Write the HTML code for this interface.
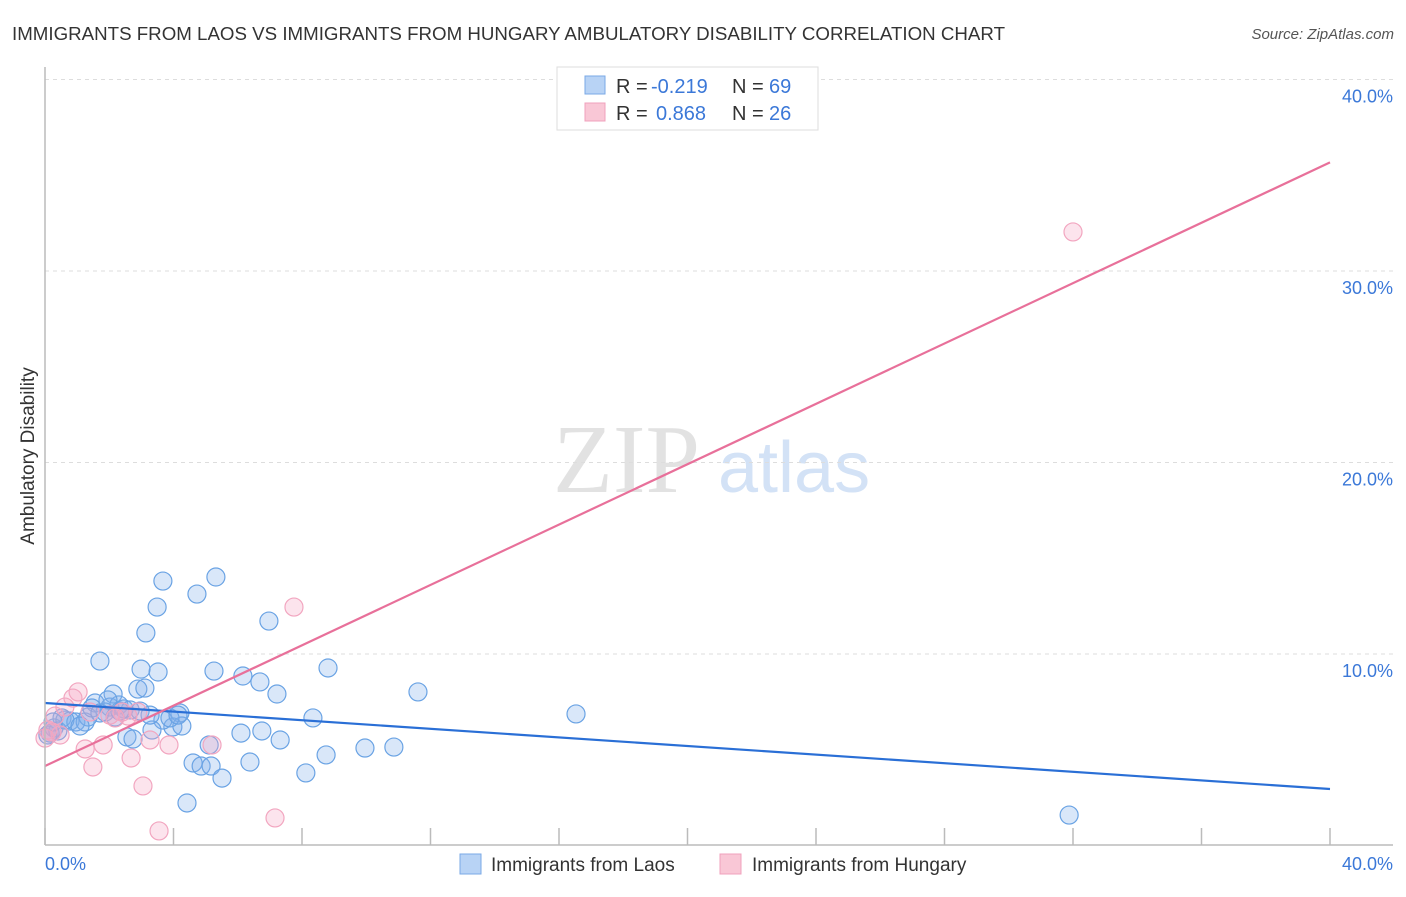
<!DOCTYPE html>
<html><head><meta charset="utf-8"><style>
body{margin:0;background:#fff;font-family:"Liberation Sans",sans-serif}
</style></head><body>
<svg width="1406" height="892" xmlns="http://www.w3.org/2000/svg" id="chart" font-family="Liberation Sans, sans-serif">
<text x="12" y="40" font-size="18" fill="#333" textLength="993" lengthAdjust="spacingAndGlyphs">IMMIGRANTS FROM LAOS VS IMMIGRANTS FROM HUNGARY AMBULATORY DISABILITY CORRELATION CHART</text>
<text x="1394" y="39" font-size="15" fill="#555" font-style="italic" text-anchor="end">Source: ZipAtlas.com</text>
<text transform="translate(34,456) rotate(-90)" font-size="19" fill="#333" text-anchor="middle">Ambulatory Disability</text>
<text x="553" y="492" font-size="98" fill="#e2e2e2" font-family="Liberation Serif, serif">ZIP</text>
<text x="718" y="492" font-size="72" fill="#d3e2f6">atlas</text>
<g id="grid"></g><g id="pts"></g><g id="lines"></g>
<line x1="45" y1="67" x2="45" y2="845" stroke="#bbb" stroke-width="1.5"/>
<line x1="45" y1="845" x2="1393" y2="845" stroke="#bbb" stroke-width="1.5"/>
<text x="45" y="870" font-size="18" fill="#3b78d8">0.0%</text>
<text x="1393" y="870" font-size="18" fill="#3b78d8" text-anchor="end">40.0%</text>
<g font-size="20">
<rect x="557" y="67" width="261" height="63" fill="#fff" stroke="#ddd"/>
<rect x="585" y="76" width="20" height="18" fill="#b8d3f5" stroke="#7aa8e6"/>
<rect x="585" y="103" width="20" height="18" fill="#f9c7d6" stroke="#f0a0bc"/>
<text x="616" y="93" fill="#333">R =</text><text x="651" y="93" fill="#3b78d8">-0.219</text>
<text x="732" y="93" fill="#333">N =</text><text x="769" y="93" fill="#3b78d8">69</text>
<text x="616" y="120" fill="#333">R =</text><text x="656" y="120" fill="#3b78d8">0.868</text>
<text x="732" y="120" fill="#333">N =</text><text x="769" y="120" fill="#3b78d8">26</text>
</g>
<g font-size="19">
<rect x="460" y="854" width="21" height="20" fill="#b8d3f5" stroke="#7aa8e6"/>
<text x="491" y="871" fill="#333">Immigrants from Laos</text>
<rect x="720" y="854" width="21" height="20" fill="#f9c7d6" stroke="#f0a0bc"/>
<text x="752" y="871" fill="#333">Immigrants from Hungary</text>
</g>
</svg>
<script>
const yTicks=[10,20,30,40];
const yTickLabels=["10.0%","20.0%","30.0%","40.0%"];
const xTicks=[0,4,8,12,16,20,24,28,32,36,40];
const laosX=[3.67,5.32,3.49,4.73,3.14,6.97,1.71,2.99,3.52,5.26,6.16,6.69,7.22,8.81,2.89,3.11,2.12,1.56,11.61,16.53,2.02,2.30,2.46,2.65,1.87,4.20,3.98,4.26,3.67,3.33,8.34,6.10,6.75,7.32,2.55,2.74,5.11,4.61,4.86,5.17,5.51,6.38,8.12,8.75,9.96,10.86,4.42,31.88,0.53,0.78,0.96,1.25,0.28,0.16,0.40,0.62,1.34,1.46,1.71,1.09,0.09,0.25,2.18,2.33,1.96,2.96,3.27,3.89,4.14];
const laosY=[13.81,14.02,12.45,13.13,11.10,11.72,9.63,9.21,9.06,9.11,8.85,8.54,7.91,9.27,8.17,8.22,7.91,7.44,8.02,6.87,7.23,7.34,7.13,7.08,6.97,6.92,6.19,6.24,6.55,6.03,6.66,5.87,5.98,5.51,5.67,5.56,5.25,4.31,4.15,4.15,3.52,4.36,3.79,4.73,5.09,5.14,2.22,1.59,6.66,6.50,6.45,6.45,6.14,5.87,5.98,6.55,6.71,7.18,6.92,6.24,5.77,6.45,6.71,7.02,7.60,7.02,6.81,6.66,6.81];
const hunX=[32.0,7.75,1.03,0.87,0.62,1.40,2.02,2.40,2.58,1.81,1.25,1.49,2.68,3.05,3.55,7.16,5.20,3.86,3.27,0.22,0.47,0.09,0.31,2.18,2.89,0.0];
const hunY=[32.04,12.45,8.02,7.70,7.23,6.97,6.81,6.97,6.76,5.25,5.04,4.10,4.57,3.11,0.76,1.44,5.25,5.25,5.51,5.93,5.77,6.03,6.76,6.66,6.97,5.61];
const laosTrend=[7.44,2.95];
const hunTrend=[4.15,35.67];
const NS="http://www.w3.org/2000/svg";
const X=v=>45+v*32.125, Y=v=>845.5-v*19.15;
function mk(t,a,p){const e=document.createElementNS(NS,t);for(const k in a)e.setAttribute(k,a[k]);document.getElementById(p).appendChild(e);return e;}
yTicks.forEach((t,i)=>{
 const l=mk('line',{x1:45,x2:1393,y1:Y(t),y2:Y(t),stroke:'#ddd','stroke-dasharray':'4,4'},'grid');
 
 
 const tx=mk('text',{x:1393,y:Y(t)+23,'font-size':18,fill:'#3b78d8','text-anchor':'end'},'grid');
 tx.textContent=yTickLabels[i];
 
 
});
xTicks.forEach(t=>{
 const l=mk('line',{x1:X(t),x2:X(t),y1:828,y2:845,stroke:'#bbb','stroke-width':1.5},'grid');
 
 
});
laosX.forEach((v,i)=>{
 const c=mk('circle',{cx:X(v),cy:Y(laosY[i]),r:9,fill:'rgba(130,175,235,0.3)',stroke:'#6aa3e4','stroke-width':1.2},'pts');
 
 
});
hunX.forEach((v,i)=>{
 const c=mk('circle',{cx:X(v),cy:Y(hunY[i]),r:9,fill:'rgba(245,165,195,0.3)',stroke:'#f2a6c0','stroke-width':1.2},'pts');
 
 
});
const l1=mk('line',{x1:X(0),y1:Y(laosTrend[0]),x2:X(40),y2:Y(laosTrend[1]),stroke:'#2a6fd6','stroke-width':2.2},'lines');


const l2=mk('line',{x1:X(0),y1:Y(hunTrend[0]),x2:X(40),y2:Y(hunTrend[1]),stroke:'#e8709a','stroke-width':2.2},'lines');


</script>
</body></html>
